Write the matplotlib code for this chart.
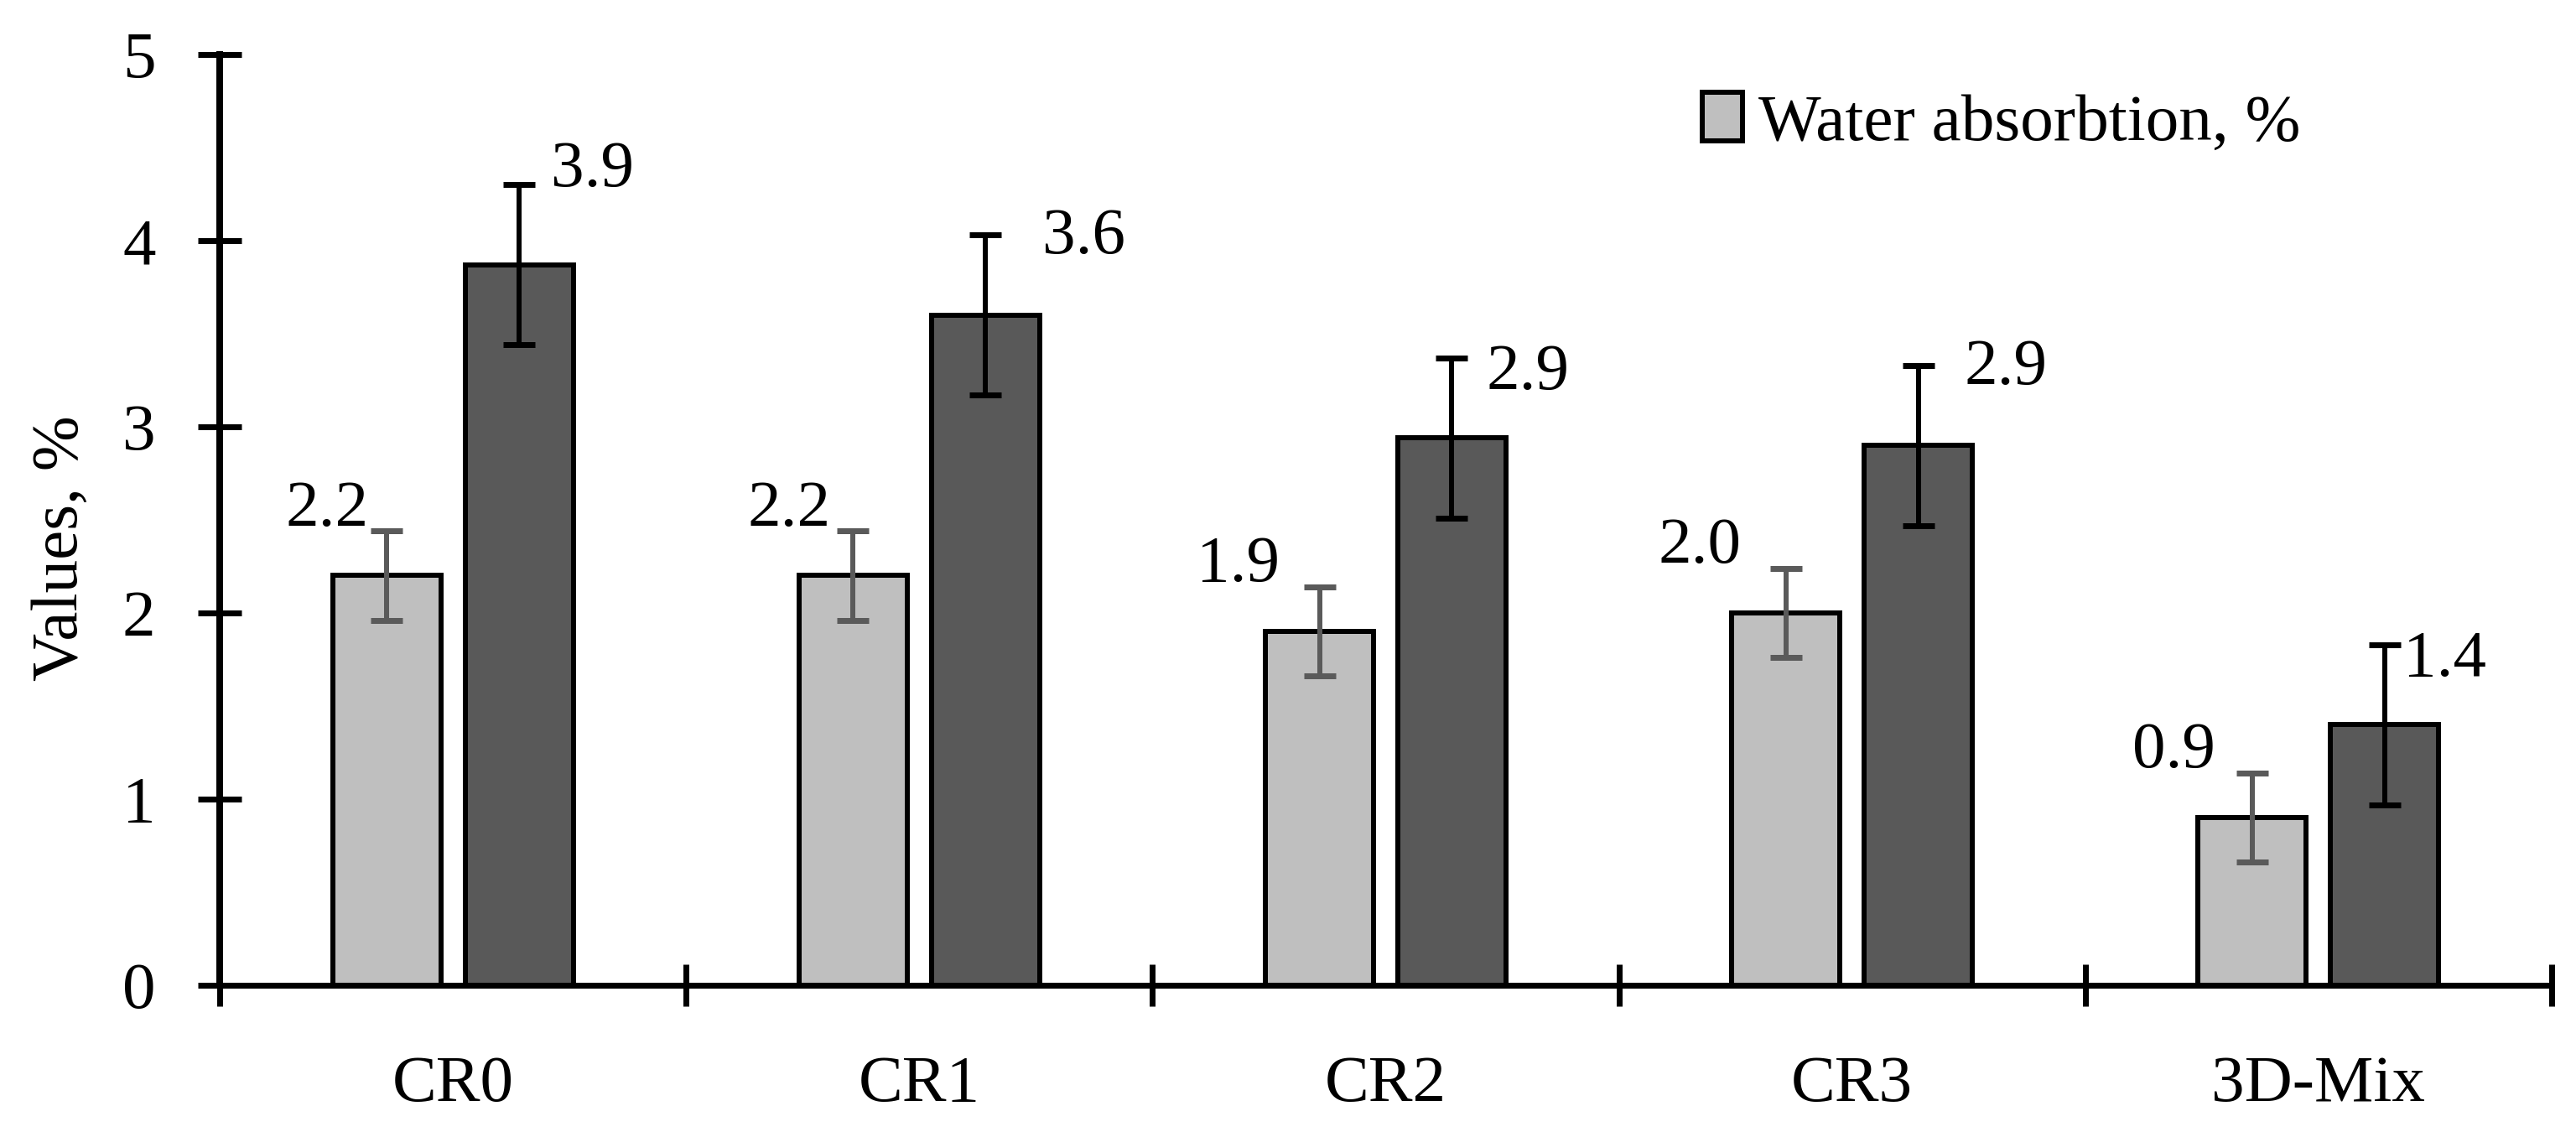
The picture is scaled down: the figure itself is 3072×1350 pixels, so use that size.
import matplotlib
matplotlib.use("Agg")
import matplotlib.pyplot as plt
import numpy as np

# ---- data ----
categories = ["CR0", "CR1", "CR2", "CR3", "3D-Mix"]
water_abs = [2.2, 2.2, 1.9, 2.0, 0.9]          # light series
water_abs_err = [0.24, 0.24, 0.24, 0.24, 0.24]
second = [3.87, 3.6, 2.94, 2.9, 1.4]            # dark series
second_err = [0.43, 0.43, 0.43, 0.43, 0.43]
light_text = ["2.2", "2.2", "1.9", "2.0", "0.9"]
dark_text = ["3.9", "3.6", "2.9", "2.9", "1.4"]
legend_label = "Water absorbtion, %"
y_label = "Values, %"
y_ticks = [0, 1, 2, 3, 4, 5]

# ---- layout (label offsets, in data units) ----
light_dx = [-0.27, -0.28, -0.316, -0.327, -0.31]
light_dy = [0.27, 0.27, 0.27, 0.27, 0.27]
dark_dx = [0.30, 0.353, 0.304, 0.33, 0.271]
dark_dy = [0.42, 0.33, 0.26, 0.33, 0.26]

plt.rcParams['font.family'] = ['Liberation Serif', 'DejaVu Serif']
FS = 57
PX = 72 / 100.0  # points per pixel at dpi 100

fig = plt.figure(figsize=(30.72, 13.5), dpi=100)
ax = fig.add_axes([262 / 3072, 1 - 1175 / 1350, (3043 - 262) / 3072, (1175 - 64.7) / 1350])

x = np.arange(len(categories))
w = 0.232
off = 0.142
lw_edge = 6 * PX

ax.bar(x - off, water_abs, w, color="#BFBFBF", edgecolor="black", linewidth=lw_edge,
       label=legend_label, zorder=2)
ax.bar(x + off, second, w, color="#595959", edgecolor="black", linewidth=lw_edge, zorder=2)

ax.errorbar(x - off, water_abs, yerr=water_abs_err, fmt="none", ecolor="#5A5A5A",
            elinewidth=6 * PX, capsize=19 * PX, capthick=7 * PX, zorder=3)
ax.errorbar(x + off, second, yerr=second_err, fmt="none", ecolor="black",
            elinewidth=6 * PX, capsize=19 * PX, capthick=7 * PX, zorder=3)

for i in range(len(categories)):
    ax.text(x[i] + light_dx[i], water_abs[i] + light_dy[i], light_text[i],
            ha="center", va="baseline", fontsize=FS)
    ax.text(x[i] + dark_dx[i], second[i] + dark_dy[i], dark_text[i],
            ha="center", va="baseline", fontsize=FS)

ax.set_xlim(-0.5, len(categories) - 0.5)
ax.set_ylim(0, 5)

# spines
for s in ["top", "right"]:
    ax.spines[s].set_visible(False)
ax.spines["left"].set_linewidth(8 * PX)
ax.spines["bottom"].set_linewidth(7 * PX)

# y ticks
ax.set_yticks(y_ticks)
ax.set_yticklabels([str(t) for t in y_ticks])
ax.tick_params(axis="y", direction="inout", length=53 * PX, width=7 * PX,
               labelsize=FS, pad=36)

# x ticks: boundaries as major ticks, labels at centers as minor ticks
ax.set_xticks(np.arange(len(categories) + 1) - 0.5)
ax.set_xticklabels([""] * (len(categories) + 1))
ax.tick_params(axis="x", which="major", direction="inout", length=50 * PX, width=7 * PX)
ax.set_xticks(x, minor=True)
ax.set_xticklabels(categories, minor=True)
ax.tick_params(axis="x", which="minor", length=0, labelsize=FS, pad=60)

ax.set_ylabel(y_label, fontsize=FS, va="center")
ax.yaxis.set_label_coords(-0.068, 0.47)

leg = ax.legend(loc="center left", bbox_to_anchor=(2030 / 3072, 1 - 147 / 1350),
                bbox_transform=fig.transFigure, frameon=False, fontsize=FS,
                handlelength=0.6, handleheight=0.75, handletextpad=0.25, borderpad=0,
                borderaxespad=0)

fig.savefig("out.png", dpi=100)
